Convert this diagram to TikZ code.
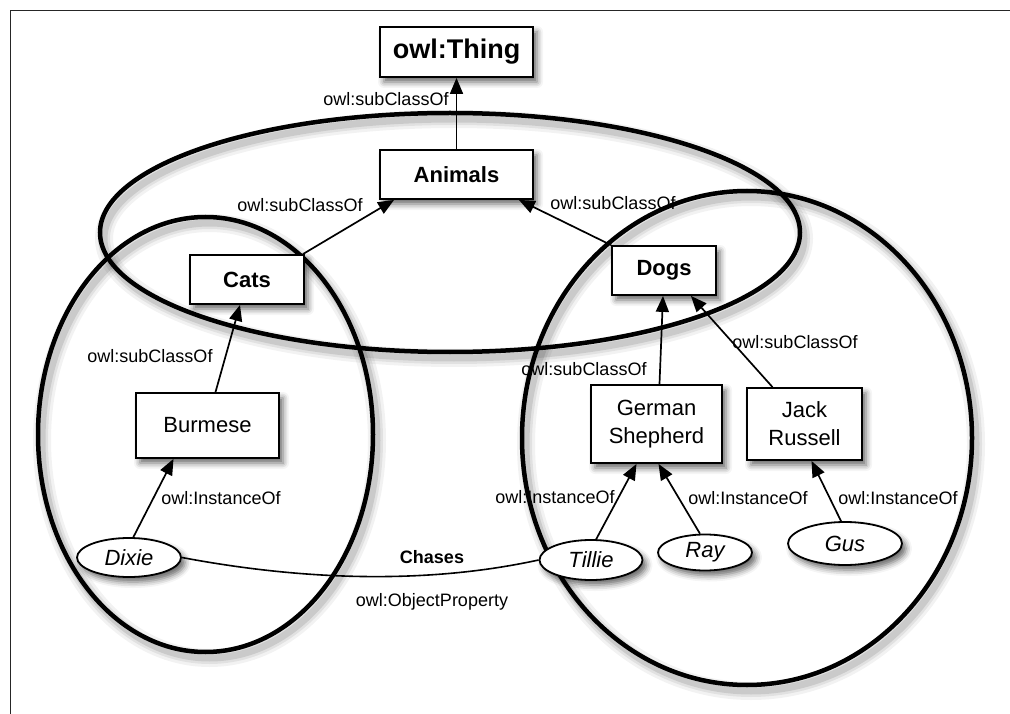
\documentclass[tikz,border=0pt]{standalone}
\usepackage{fontspec}
\setmainfont{Liberation Sans}
\usetikzlibrary{arrows.meta,shapes.geometric,shadows.blur}
\tikzset{
  bong/.style={blur shadow={shadow xshift=4pt, shadow yshift=-5pt, shadow blur radius=6pt, shadow opacity=60}},
  lop/.style={draw, line width=1.8pt, fill=white, inner sep=0pt, align=center, bong, font=\fontsize{22}{28}\selectfont},
  lopdam/.style={lop, font=\bfseries\fontsize{22}{28}\selectfont},
  cathe/.style={ellipse, draw, line width=1.8pt, fill=white, inner sep=0pt, bong, font=\itshape\fontsize{22}{26}\selectfont},
  nhan/.style={inner sep=0pt, font=\fontsize{18}{20}\selectfont},
  muiten/.style={line width=1.7pt, -{Triangle[length=16pt,width=13pt]}},
  vong/.style={line width=4.5pt},
}
\begin{document}
\begin{tikzpicture}[x=1pt, y=-1pt]
  \useasboundingbox (0,0) rectangle (1010,714);
  % Khung
  \draw[line width=1.5pt, black!85] (10.5,714) -- (10.5,10.5) -- (1010,10.5);
  % Bóng của ba vòng
  \foreach \w/\o in {18/0.05, 12/0.07, 7/0.1}{
    \begin{scope}[shift={(4,6)}, line width=\w pt, black, opacity=\o]
      \draw (450,232.5) ellipse [x radius=350pt, y radius=119.5pt];
      \draw (205.5,434.5) ellipse [x radius=167.5pt, y radius=217.5pt];
      \draw (747,438) ellipse [x radius=225pt, y radius=247pt];
    \end{scope}
  }
  % Ba vòng: Animals, Cats, Dogs
  \draw[vong] (450,232.5) ellipse [x radius=350pt, y radius=119.5pt];
  \draw[vong] (205.5,434.5) ellipse [x radius=167.5pt, y radius=217.5pt];
  \draw[vong] (747,438) ellipse [x radius=225pt, y radius=247pt];

  % Các lớp
  \node[lopdam, minimum width=153pt, minimum height=50pt, font=\bfseries\fontsize{27}{32}\selectfont] (thing) at (456.5,52) {owl:Thing};
  \node[lopdam, minimum width=153pt, minimum height=49pt] (animals) at (456.5,174.5) {Animals};
  \node[lopdam, minimum width=114pt, minimum height=49pt] (cats) at (247,279.5) {Cats};
  \node[lopdam, minimum width=104pt, minimum height=49pt] (dogs) at (664,270.5) {Dogs};
  \node[lop, minimum width=143pt, minimum height=65pt] (burmese) at (207.5,425.5) {Burmese};
  \node[lop, minimum width=131pt, minimum height=78pt] (shepherd) at (656.5,424) {German\\Shepherd};
  \node[lop, minimum width=115pt, minimum height=72pt] (russell) at (804.5,424) {Jack\\Russell};

  % Các cá thể
  \node[cathe, minimum width=104pt, minimum height=39pt] (dixie) at (129,557.5) {Dixie};
  \node[cathe, minimum width=103pt, minimum height=40pt] (tillie) at (591,560) {Tillie};
  \node[cathe, minimum width=94pt, minimum height=36pt] (ray) at (705,552.5) {Ray};
  \node[cathe, minimum width=114pt, minimum height=43pt] (gus) at (845,543.5) {Gus};

  % Quan hệ subClassOf
  \draw[muiten] (animals.north) -- (thing.south);
  \draw[muiten] ([xshift=-2pt]cats.north east) -- ([xshift=15pt]animals.south west);
  \draw[muiten] (dogs.north west) -- ([xshift=-15pt]animals.south east);
  \draw[muiten] ([xshift=8pt]burmese.north) -- ([xshift=-7pt]cats.south);
  \draw[muiten] ([xshift=3pt]shepherd.north) -- ([xshift=-1pt]dogs.south);
  \draw[muiten] ([xshift=-32pt]russell.north) -- ([xshift=-26pt]dogs.south east);
  % Quan hệ InstanceOf
  \draw[muiten] (dixie.78) -- ([xshift=-34pt]burmese.south);
  \draw[muiten] (tillie.76) -- ([xshift=-20pt]shepherd.south);
  \draw[muiten] (ray.105) -- ([xshift=2pt]shepherd.south);
  \draw[muiten] (gus.100) -- ([xshift=7pt]russell.south);
  % Chases
  \draw[line width=1.6pt] (dixie.east) .. controls (280,576) and (410,588) .. (tillie.west);

  % Nhãn
  \node[nhan] (nThing) at (386,99) {owl:subClassOf};
  \node[nhan] (nCats) at (300,205) {owl:subClassOf};
  \node[nhan] (nDogs) at (613,203) {owl:subClassOf};
  \node[nhan] (nBurmese) at (150,356) {owl:subClassOf};
  \node[nhan] (nShepherd) at (584,369) {owl:subClassOf};
  \node[nhan] (nRussell) at (795,342) {owl:subClassOf};
  \node[nhan] (nDixie) at (221,498) {owl:InstanceOf};
  \node[nhan] (nTillie) at (555,497) {owl:InstanceOf};
  \node[nhan] (nRay) at (748,498) {owl:InstanceOf};
  \node[nhan] (nGus) at (898,498) {owl:InstanceOf};
  \node[nhan, font=\bfseries\fontsize{18}{20}\selectfont] (nChases) at (432,557) {Chases};
  \node[nhan] (nObject) at (432,602) {owl:ObjectProperty};
\end{tikzpicture}
\end{document}
